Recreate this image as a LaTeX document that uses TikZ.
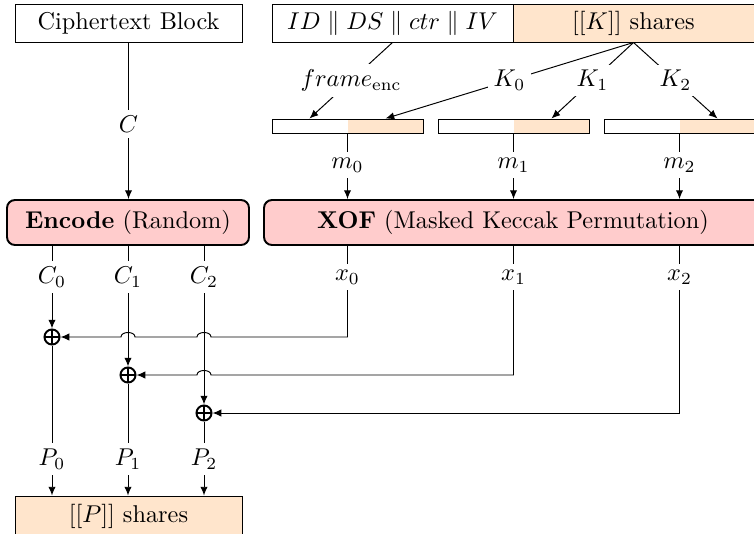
\documentclass[tikz,border=0pt]{standalone}
\usetikzlibrary{arrows.meta,calc}
\colorlet{peach}{orange!20}
\colorlet{rosy}{red!20}
\def\U{0.4115pt}
\begin{document}
\begin{tikzpicture}[x=0.4115pt,y=-0.4115pt,
  box/.style={draw, line width=0.4pt, minimum height=38*\U, inner sep=0pt},
  rbox/.style={draw, thick, fill=rosy, rounded corners=3.3pt, minimum height=45*\U, inner sep=0pt},
  sbox/.style={draw, line width=0.4pt, fill=white, minimum width=151*\U, minimum height=14*\U, inner sep=0pt,
    path picture={\fill[peach] (path picture bounding box.north) rectangle (path picture bounding box.south east);}},
  lab/.style={inner sep=2.3pt},
  onlab/.style={inner sep=2.3pt, fill=white},
  arr/.style={-{Latex[length=3.6pt,width=3pt]}},
  xorn/.style={circle, draw, thick, minimum size=6.2pt, inner sep=0pt,
    path picture={\draw[thick] (path picture bounding box.north) -- (path picture bounding box.south)
      (path picture bounding box.west) -- (path picture bounding box.east);}}]
\useasboundingbox (0,0) rectangle (754,533);
\clip (0,0) rectangle (754,533);

% top boxes
\node[box, minimum width=227*\U] (cipher) at (128.5,23) {Ciphertext Block};
\node[box, minimum width=241*\U] (idb) at (392.5,23) {$ID \parallel DS \parallel ctr \parallel IV$};
\node[box, fill=peach, minimum width=241*\U] (kb) at (633.5,23) {$[[K]]$ shares};

% small message boxes
\node[sbox] (s1) at (347.5,126) {};
\node[sbox] (s2) at (513.5,126) {};
\node[sbox] (s3) at (679.5,126) {};

% main blocks
\node[rbox, minimum width=242*\U] (enc) at (128,222.5) {\textbf{Encode} (Random)};
\node[rbox, minimum width=498*\U] (xof) at (513,222.5) {\textbf{XOF} (Masked Keccak Permutation)};

% labels
\node[lab] (lC) at (128.5,124) {$C$};
\node[lab] (lm0) at (347.5,165) {$m_0$};
\node[lab] (lm1) at (513.5,165) {$m_1$};
\node[lab] (lm2) at (679.5,165) {$m_2$};
\node[lab] (lC0) at (52,277) {$C_0$};
\node[lab] (lC1) at (128,277) {$C_1$};
\node[lab] (lC2) at (204,277) {$C_2$};
\node[lab] (lx0) at (347.5,277) {$x_0$};
\node[lab] (lx1) at (513.5,277) {$x_1$};
\node[lab] (lx2) at (679.5,277) {$x_2$};
\node[lab] (lP0) at (52,459) {$P_0$};
\node[lab] (lP1) at (128,459) {$P_1$};
\node[lab] (lP2) at (204,459) {$P_2$};

% xor gates
\node[xorn] (o1) at (52,337) {};
\node[xorn] (o2) at (128,375) {};
\node[xorn] (o3) at (204,413) {};

% output box
\node[box, fill=peach, minimum width=227*\U, minimum height=40*\U] (pb) at (128.5,516) {$[[P]]$ shares};

% connectors
\draw (cipher.south) -- (lC);
\draw[arr] (lC) -- (lC |- enc.north);

\coordinate (t1l) at ($(s1.north west)!.5!(s1.north)$);
\coordinate (t1r) at ($(s1.north)!.5!(s1.north east)$);
\coordinate (t2r) at ($(s2.north)!.5!(s2.north east)$);
\coordinate (t3r) at ($(s3.north)!.5!(s3.north east)$);
\draw[arr] (idb.south) -- node[onlab] {$frame_{\mathrm{enc}}$} (t1l);
\draw[arr] (kb.south) -- node[onlab] {$K_0$} (t1r);
\draw[arr] (kb.south) -- node[onlab] {$K_1$} (t2r);
\draw[arr] (kb.south) -- node[onlab] {$K_2$} (t3r);

\draw (s1.south) -- (lm0);
\draw (s2.south) -- (lm1);
\draw (s3.south) -- (lm2);
\draw[arr] (lm0) -- (lm0 |- xof.north);
\draw[arr] (lm1) -- (lm1 |- xof.north);
\draw[arr] (lm2) -- (lm2 |- xof.north);

\draw (lC0 |- enc.south) -- (lC0);
\draw (lC1 |- enc.south) -- (lC1);
\draw (lC2 |- enc.south) -- (lC2);
\draw[arr] (lC0) -- (o1);
\draw[arr] (lC1) -- (o2);
\draw[arr] (lC2) -- (o3);

\draw (lx0 |- xof.south) -- (lx0);
\draw (lx1 |- xof.south) -- (lx1);
\draw (lx2 |- xof.south) -- (lx2);
\draw[arr] (lx0) -- (lx0 |- o1) -- (211,337) .. controls (211,331) and (197,331) .. (197,337)
  -- (135,337) .. controls (135,331) and (121,331) .. (121,337) -- (o1);
\draw[arr] (lx1) -- (lx1 |- o2) -- (211,375) .. controls (211,369) and (197,369) .. (197,375) -- (o2);
\draw[arr] (lx2) -- (lx2 |- o3) -- (o3);

\draw (o1) -- (lP0);
\draw (o2) -- (lP1);
\draw (o3) -- (lP2);
\draw[arr] (lP0) -- (lP0 |- pb.north);
\draw[arr] (lP1) -- (lP1 |- pb.north);
\draw[arr] (lP2) -- (lP2 |- pb.north);
\end{tikzpicture}
\end{document}
